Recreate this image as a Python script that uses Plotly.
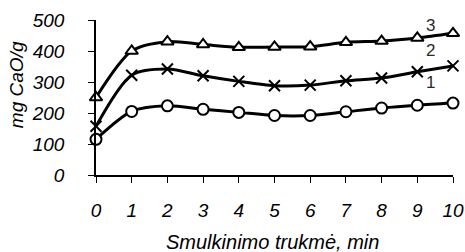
import plotly.graph_objects as go

x_vals = [0, 1, 2, 3, 4, 5, 6, 7, 8, 9, 10]
series1 = [115, 205, 223, 212, 202, 192, 192, 204, 216, 225, 232]
series2 = [157, 322, 342, 320, 302, 288, 290, 304, 313, 333, 352]
series3 = [250, 400, 430, 421, 412, 413, 414, 428, 432, 442, 457]
series_labels = ["1", "2", "3"]
label_x = [9.38, 9.38, 9.38]
label_y = [297, 403, 481]
x_ticks = [0, 1, 2, 3, 4, 5, 6, 7, 8, 9, 10]
y_ticks = [0, 100, 200, 300, 400, 500]

FONT = "Liberation Sans, Arial, sans-serif"

fig = go.Figure()
symbols = ["circle", "x-thin-open", "triangle-up"]
for ys in [series1, series2, series3]:
    fig.add_trace(go.Scatter(
        x=x_vals, y=ys, mode="lines",
        line=dict(color="black", width=3, shape="spline", smoothing=0.8),
        cliponaxis=False, showlegend=False, hoverinfo="skip",
    ))
for ys, sym in zip([series1, series2, series3], symbols):
    fig.add_trace(go.Scatter(
        x=x_vals, y=ys, mode="markers",
        marker=dict(symbol=sym, size=11,
                    color="black" if sym == "x-thin-open" else "white",
                    line=dict(color="black", width=2)),
        cliponaxis=False, showlegend=False,
    ))

for lab, lx, ly in zip(series_labels, label_x, label_y):
    fig.add_annotation(x=lx, y=ly, text=lab, showarrow=False,
                       font=dict(family=FONT, size=17, color="#2a2a2a"))

fig.add_annotation(xref="paper", yref="paper", x=0.493, y=-0.432,
                   text="<i>Smulkinimo trukmė, min</i>", showarrow=False,
                   xanchor="center", yanchor="middle",
                   font=dict(family=FONT, size=20, color="black"))
fig.add_annotation(xref="paper", yref="paper", x=-0.224, y=0.58,
                   text="<i>mg CaO/g</i>", showarrow=False, textangle=-90,
                   xanchor="center", yanchor="middle",
                   font=dict(family=FONT, size=19, color="black"))

fig.update_layout(
    width=465, height=252,
    margin=dict(l=96, r=12, t=20, b=77),
    paper_bgcolor="white", plot_bgcolor="white",
    font=dict(family=FONT, size=17, color="black"),
    xaxis=dict(range=[0, 10], tickvals=x_ticks, showline=True,
               linecolor="black", linewidth=1.5, ticks="outside",
               ticklen=6, tickcolor="black", showgrid=False, zeroline=False,
               tickfont=dict(family=FONT, size=19, style="italic"),
               ticklabelstandoff=11, automargin=False),
    yaxis=dict(range=[0, 500], tickvals=y_ticks, showline=True,
               linecolor="black", linewidth=1.5, ticks="outside",
               ticklen=6, tickcolor="black", showgrid=False, zeroline=False,
               tickfont=dict(family=FONT, size=19, style="italic"),
               ticklabelstandoff=20, automargin=False),
)

fig.write_html("out.html", config={"displayModeBar": False},
               post_script="document.body.style.margin='0';document.body.style.overflow='hidden';")
